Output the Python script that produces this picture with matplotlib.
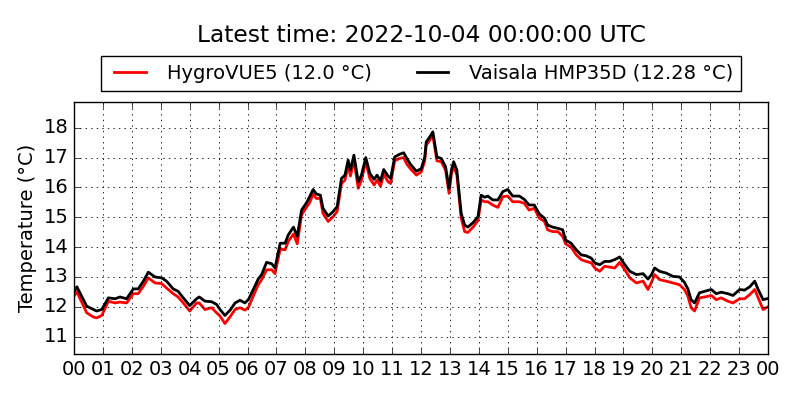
import matplotlib
matplotlib.use("Agg")
import matplotlib.pyplot as plt

hours = [0, 0.1, 0.44, 0.67, 0.78, 0.96, 1.19, 1.42, 1.59, 1.82, 2.05, 2.22, 2.4, 2.57, 2.8, 3.03,
         3.2, 3.43, 3.6, 3.78, 4.0, 4.24, 4.33, 4.53, 4.76, 4.93, 5.05, 5.22, 5.4, 5.57, 5.74, 5.91,
         6.03, 6.2, 6.37, 6.49, 6.66, 6.84, 6.95, 7.13, 7.3, 7.41, 7.59, 7.72, 7.87, 8.05, 8.15, 8.27,
         8.38, 8.52, 8.61, 8.79, 8.96, 9.1, 9.25, 9.37, 9.48, 9.56, 9.68, 9.83, 9.94, 10.09, 10.23,
         10.38, 10.48, 10.6, 10.71, 10.86, 10.95, 11.09, 11.26, 11.4, 11.51, 11.63, 11.84, 12.01,
         12.13, 12.18, 12.3, 12.41, 12.55, 12.7, 12.85, 12.97, 13.05, 13.13, 13.24, 13.39, 13.51,
         13.62, 13.8, 13.97, 14.08, 14.2, 14.31, 14.48, 14.66, 14.83, 15.0, 15.17, 15.4, 15.57,
         15.74, 15.92, 16.09, 16.27, 16.38, 16.55, 16.73, 16.9, 17.0, 17.19, 17.37, 17.54, 17.71,
         17.89, 18.01, 18.18, 18.35, 18.53, 18.7, 18.87, 19.05, 19.22, 19.45, 19.68, 19.85, 19.97,
         20.08, 20.25, 20.48, 20.71, 20.94, 21.11, 21.23, 21.34, 21.46, 21.63, 21.81, 22.04, 22.21,
         22.38, 22.61, 22.79, 23.02, 23.19, 23.37, 23.54, 23.66, 23.83, 24.0]

vaisala = [12.5, 12.67, 12.02, 11.91, 11.86, 11.91, 12.3, 12.27, 12.33, 12.27, 12.6, 12.6, 12.86,
           13.16, 13.0, 12.97, 12.86, 12.6, 12.52, 12.3, 12.04, 12.27, 12.33, 12.19, 12.17, 12.08,
           11.91, 11.71, 11.89, 12.13, 12.22, 12.13, 12.24, 12.58, 12.93, 13.08, 13.49, 13.44, 13.3,
           14.13, 14.13, 14.41, 14.67, 14.36, 15.24, 15.5, 15.69, 15.93, 15.78, 15.74, 15.3, 15.04,
           15.19, 15.36, 16.3, 16.41, 16.91, 16.58, 17.08, 16.19, 16.41, 17.0, 16.47, 16.27, 16.41,
           16.22, 16.6, 16.38, 16.3, 17.02, 17.11, 17.16, 16.97, 16.78, 16.54, 16.63, 17.02, 17.52,
           17.69, 17.86, 17.02, 16.97, 16.69, 15.97, 16.58, 16.86, 16.58, 15.13, 14.74, 14.67, 14.82,
           15.02, 15.74, 15.67, 15.71, 15.58, 15.58, 15.86, 15.93, 15.71, 15.71, 15.6, 15.41, 15.41,
           15.11, 14.97, 14.74, 14.67, 14.63, 14.58, 14.24, 14.13, 13.91, 13.74, 13.71, 13.63, 13.47,
           13.41, 13.52, 13.52, 13.58, 13.67, 13.41, 13.19, 13.08, 13.11, 12.93, 13.08, 13.3, 13.19,
           13.13, 13.02, 13.0, 12.82, 12.6, 12.24, 12.13, 12.47, 12.52, 12.58, 12.44, 12.49, 12.44,
           12.38, 12.58, 12.56, 12.67, 12.86, 12.58, 12.24, 12.28]

hygrovue = [12.36, 12.5, 11.8, 11.66, 11.63, 11.71, 12.19, 12.13, 12.16, 12.13, 12.44, 12.44, 12.69,
            12.97, 12.8, 12.78, 12.63, 12.44, 12.33, 12.13, 11.86, 12.13, 12.13, 11.91, 11.97, 11.8,
            11.69, 11.44, 11.67, 11.91, 11.97, 11.89, 11.97, 12.36, 12.74, 12.91, 13.24, 13.24, 13.11,
            13.93, 13.91, 14.19, 14.44, 14.11, 15.08, 15.35, 15.49, 15.78, 15.63, 15.63, 15.13, 14.86,
            15.02, 15.19, 16.13, 16.24, 16.74, 16.38, 16.91, 15.97, 16.24, 16.86, 16.3, 16.08, 16.24,
            16.04, 16.44, 16.19, 16.13, 16.89, 16.97, 17.0, 16.78, 16.63, 16.41, 16.52, 16.89, 17.41,
            17.58, 17.74, 16.89, 16.86, 16.58, 15.8, 16.44, 16.71, 16.41, 14.97, 14.52, 14.49, 14.67,
            14.89, 15.58, 15.52, 15.52, 15.41, 15.33, 15.69, 15.71, 15.52, 15.52, 15.47, 15.24, 15.3,
            14.97, 14.86, 14.58, 14.52, 14.52, 14.36, 14.11, 14.0, 13.74, 13.58, 13.52, 13.47, 13.3,
            13.19, 13.36, 13.33, 13.3, 13.49, 13.24, 12.97, 12.8, 12.86, 12.58, 12.82, 13.08, 12.91,
            12.86, 12.8, 12.74, 12.58, 12.36, 11.97, 11.86, 12.3, 12.33, 12.38, 12.24, 12.3, 12.19,
            12.13, 12.27, 12.27, 12.41, 12.58, 12.3, 11.91, 12.0]

tick_hours = list(range(25))
tick_labels = ["%02d" % (h % 24) for h in tick_hours]
yticks = [11, 12, 13, 14, 15, 16, 17, 18]

title = "Latest time: 2022-10-04 00:00:00 UTC"
label_hygro = "HygroVUE5 (12.0 \u00b0C)"
label_vais = "Vaisala HMP35D (12.28 \u00b0C)"

plt.style.use("classic")
plt.rcParams["font.family"] = ["DejaVu Sans"]
plt.rcParams["figure.facecolor"] = "white"
plt.rcParams["savefig.facecolor"] = "white"

fig = plt.figure(figsize=(8, 4), dpi=100)
ax = fig.add_axes([0.0925, 0.115, 0.8675, 0.63])

ax.plot(hours, hygrovue, color="red", lw=2, label=label_hygro)
ax.plot(hours, vaisala, color="black", lw=2, label=label_vais)

ax.set_xlim(0, 24)
ax.set_ylim(10.42, 18.86)
ax.set_xticks(tick_hours)
ax.set_xticklabels(tick_labels, fontsize=14)
ax.set_yticks(yticks)
ax.set_yticklabels([str(v) for v in yticks], fontsize=14)
ax.set_ylabel("Temperature (\u00b0C)", fontsize=14)
ax.grid(True, color="black", linestyle=":", linewidth=0.6)

leg = ax.legend(loc="lower center", bbox_to_anchor=(0.5, 1.045), ncol=2, fontsize=14,
                fancybox=False, frameon=True, borderaxespad=0, handlelength=2.2,
                handletextpad=0.8, columnspacing=2.0)
leg.get_frame().set_edgecolor("black")

fig.text(421 / 800, 1 - 35 / 400, title, fontsize=16.8, ha="center", va="center")

fig.savefig("out.png", dpi=100)
